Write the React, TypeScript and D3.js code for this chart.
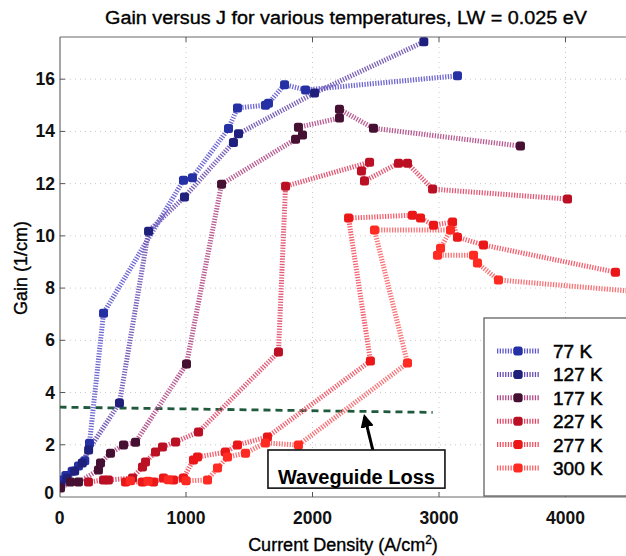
import React from 'react';
import * as d3 from 'd3';

const title = 'Gain versus J for various temperatures, LW = 0.025 eV';
const xLabel = 'Current Density (A/cm';
const yLabel = 'Gain (1/cm)';
const xTicks = [0, 1000, 2000, 3000, 4000];
const yTicks = [0, 2, 4, 6, 8, 10, 12, 14, 16];
const temps = ['77 K', '127 K', '177 K', '227 K', '277 K', '300 K'];

const j77 = [15, 50, 100, 150, 200, 237, 348, 980, 1051, 1336, 1407, 1628, 1652, 1779, 1945, 3146];
const g77 = [0.65, 0.82, 0.99, 1.19, 1.39, 2.06, 7.04, 12.13, 12.23, 14.11, 14.9, 15.0, 15.08, 15.79, 15.59, 16.13];

const j127 = [10, 60, 120, 180, 230, 474, 704, 988, 1375, 1415, 2016, 2880];
const g127 = [0.45, 0.72, 1.0, 1.3, 1.8, 3.6, 10.18, 11.49, 13.58, 13.91, 15.47, 17.43];

const j177 = [8, 87, 150, 308, 324, 403, 506, 601, 1004, 1281, 1866, 1921, 1889, 2213, 2213, 2482, 3644];
const g177 = [0.34, 0.57, 0.57, 1.03, 1.3, 1.68, 1.99, 2.1, 5.09, 11.98, 13.7, 13.86, 14.16, 14.51, 14.85, 14.12, 13.44];

const j227 = [229, 348, 387, 577, 656, 680, 759, 814, 917, 1099, 1731, 1787, 2451, 2387, 2411, 2680, 2751, 2949, 4016];
const g227 = [0.57, 0.65, 0.65, 0.73, 1.15, 1.34, 1.72, 1.91, 2.11, 2.49, 5.55, 11.9, 12.82, 12.48, 12.1, 12.78, 12.78, 11.79, 11.41];

const j277 = [522, 656, 743, 822, 901, 980, 1059, 1091, 1312, 1407, 1644, 2458, 2285, 2790, 2854, 2957, 3107, 3146, 3352, 4395];
const g277 = [0.57, 0.57, 0.57, 0.73, 0.65, 0.73, 1.42, 1.53, 1.72, 1.99, 2.3, 5.21, 10.68, 10.79, 10.68, 10.41, 10.53, 9.95, 9.65, 8.61];

const j300 = [560, 700, 860, 1000, 1170, 1249, 1328, 1470, 1628, 1889, 2751, 2490, 3091, 3012, 2988, 3273, 3304, 3470, 4600];
const g300 = [0.62, 0.6, 0.66, 0.62, 0.65, 1.11, 1.53, 1.68, 2.07, 1.99, 5.13, 10.22, 10.22, 9.53, 9.26, 9.26, 8.96, 8.31, 7.85];

const wgJ = [0, 2950];
const wgG = [3.44, 3.24];
const annotation = 'Waveguide Loss';

const seriesJ = [j77, j127, j177, j227, j277, j300];
const seriesG = [g77, g127, g177, g227, g277, g300];
const markerColors = ['#2430a4', '#1f1f7c', '#461032', '#bb1024', '#ea1618', '#ff2a22'];
const lineColors = ['#5f58cc', '#6a4fb0', '#b04a86', '#e04868', '#f25060', '#f76468'];

const W = 626;
const H = 556;
const left = 60;
const top = 37;
const bottom = 497;

export default function App() {
  const x = d3.scaleLinear().domain([0, 4500]).range([59.5, 628.75]);
  const y = d3.scaleLinear().domain([0, 17.6]).range([497, 37.4]);
  const line = d3
    .line<[number, number]>()
    .x((d) => x(d[0]))
    .y((d) => y(d[1]));
  const font = 'Liberation Sans, Arial, Helvetica, sans-serif';

  const legendX = 484;
  const legendY = 318;
  const rowY = (i: number) => 351 + i * 23.4;

  return (
    <svg
      width={W}
      height={H}
      style={{ position: 'absolute', left: 0, top: 0, background: '#fff' }}
      fontFamily={font}
    >
      <defs>
        <clipPath id="plot">
          <rect x={left} y={top - 6} width={W - left + 20} height={bottom - top + 6} />
        </clipPath>
        <marker id="arrow" viewBox="0 0 10 10" refX="8" refY="5" markerWidth="4.5" markerHeight="4.5" orient="auto">
          <path d="M0,0 L10,5 L0,10 z" fill="#000" />
        </marker>
      </defs>
      <rect x={0} y={0} width={W} height={H} fill="#fff" />

      {/* grid */}
      {xTicks.slice(1).map((t) => (
        <line key={'gx' + t} x1={x(t)} x2={x(t)} y1={top} y2={bottom} stroke="#c8c8c8" strokeWidth={1} strokeDasharray="1,4" />
      ))}
      {yTicks.slice(1).map((t) => (
        <line key={'gy' + t} x1={left} x2={W} y1={y(t)} y2={y(t)} stroke="#c8c8c8" strokeWidth={1} strokeDasharray="1,4" />
      ))}

      {/* frame */}
      <line x1={left} x2={W} y1={top} y2={top} stroke="#6a6a6a" strokeWidth={1.2} />
      <line x1={left} x2={W} y1={bottom} y2={bottom} stroke="#6a6a6a" strokeWidth={1.2} />
      <line x1={left} x2={left} y1={top} y2={bottom} stroke="#6a6a6a" strokeWidth={1.2} />
      {xTicks.slice(1).map((t) => (
        <g key={'tx' + t}>
          <line x1={x(t)} x2={x(t)} y1={top} y2={top + 5} stroke="#555" />
          <line x1={x(t)} x2={x(t)} y1={bottom} y2={bottom - 5} stroke="#555" />
        </g>
      ))}
      {yTicks.slice(1).map((t) => (
        <line key={'ty' + t} x1={left} x2={left + 5} y1={y(t)} y2={y(t)} stroke="#555" />
      ))}

      {/* tick labels */}
      {xTicks.map((t) => (
        <text key={'lx' + t} x={x(t)} y={524} textAnchor="middle" fontSize={17.5} fontWeight="bold" fill="#111">
          {t}
        </text>
      ))}
      {yTicks.map((t) => (
        <text
          key={'ly' + t}
          x={t === 0 ? 54 : 55}
          y={t === 0 ? y(t) + 2 : y(t) + 6}
          textAnchor="end"
          fontSize={17.5}
          fontWeight="bold"
          fill="#111"
        >
          {t}
        </text>
      ))}

      {/* axis titles */}
      <text x={346} y={24} textAnchor="middle" fontSize={18} fill="#000" stroke="#000" strokeWidth={0.35} textLength={482} lengthAdjust="spacingAndGlyphs">
        {title}
      </text>
      <text x={343} y={551} textAnchor="middle" fontSize={18} fill="#000" stroke="#000" strokeWidth={0.35}>
        {xLabel}
        <tspan dy={-7} fontSize={12}>2</tspan>
        <tspan dy={7}>)</tspan>
      </text>
      <text transform={`translate(27,268) rotate(-90)`} textAnchor="middle" fontSize={18} fill="#000" stroke="#000" strokeWidth={0.35}>
        {yLabel}
      </text>

      {/* data */}
      <g clipPath="url(#plot)">
        <path
          d={line(wgJ.map((j, i) => [j, wgG[i]]) as [number, number][]) || ''}
          fill="none"
          stroke="#1f5a3c"
          strokeWidth={2.8}
          strokeDasharray="7,5"
        />
        {seriesJ.map((js, s) => (
          <path
            key={'l' + s}
            d={line(js.map((j, i) => [j, seriesG[s][i]]) as [number, number][]) || ''}
            fill="none"
            stroke={lineColors[s]}
            strokeWidth={5}
            strokeDasharray="1.3,1.4"
            strokeOpacity={0.9}
          />
        ))}
        {seriesJ.map((js, s) =>
          js.map((j, i) => (
            <rect
              key={'m' + s + '-' + i}
              x={x(j) - 4.5}
              y={y(seriesG[s][i]) - 4.5}
              width={9}
              height={9}
              rx={2.5}
              fill={markerColors[s]}
            />
          ))
        )}
      </g>

      {/* annotation */}
      <line x1={x(2478)} y1={y(1.78)} x2={x(2412)} y2={y(3.08)} stroke="#000" strokeWidth={3} markerEnd="url(#arrow)" />
      <rect x={x(1648)} y={y(1.8)} width={x(3047) - x(1648)} height={y(0.34) - y(1.8)} fill="#fff" stroke="#111" strokeWidth={1.6} />
      <text x={(x(1648) + x(3047)) / 2} y={y(0.5)} textAnchor="middle" fontSize={20} fontWeight="bold" fill="#000">
        {annotation}
      </text>

      {/* legend */}
      <rect x={legendX} y={legendY} width={W - legendX + 10} height={bottom - legendY - 1} fill="#fff" stroke="#555" strokeWidth={1.2} />
      {temps.map((t, i) => (
        <g key={'lg' + t}>
          <line x1={497} x2={539} y1={rowY(i)} y2={rowY(i)} stroke={lineColors[i]} strokeWidth={5} strokeDasharray="1.3,1.4" />
          <rect x={518 - 4.5} y={rowY(i) - 4.5} width={9} height={9} rx={2.5} fill={markerColors[i]} />
          <text x={553} y={rowY(i) + 7} fontSize={19} fill="#000" stroke="#000" strokeWidth={0.5}>
            {t}
          </text>
        </g>
      ))}
    </svg>
  );
}
